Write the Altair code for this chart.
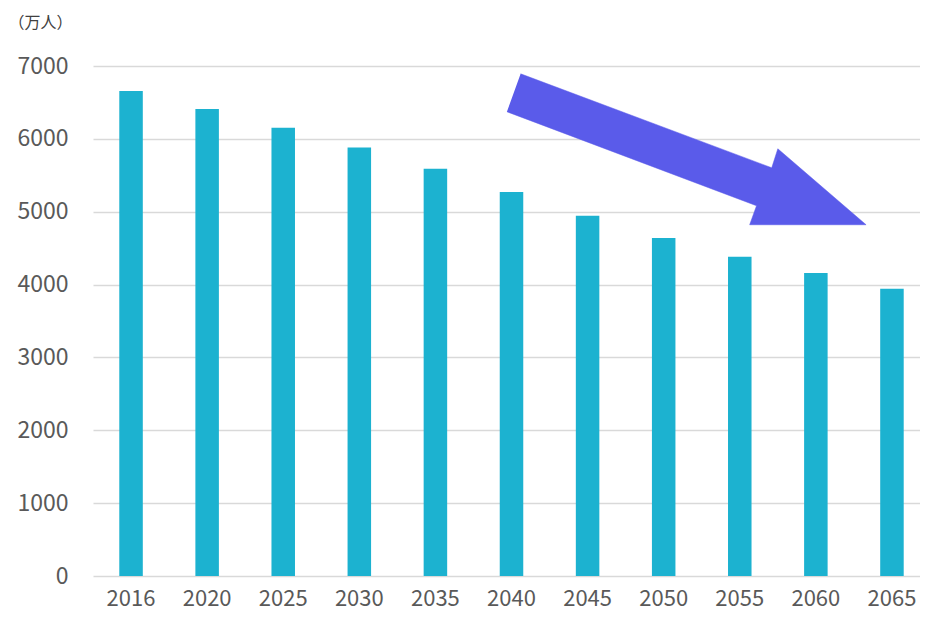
import altair as alt
import pandas as pd

# --- data ---
years = ["2016", "2020", "2025", "2030", "2035", "2040", "2045", "2050", "2055", "2060", "2065"]
values = [6656, 6409, 6152, 5882, 5589, 5270, 4944, 4638, 4382, 4158, 3942]
y_ticks = [0, 1000, 2000, 3000, 4000, 5000, 6000, 7000]
unit_label = "（万人）"

# arrow annotation vertices (x in category-index units, y in data units)
arrow_x = [5.12, 8.42, 8.50, 9.66, 8.13, 8.22, 4.94]
arrow_y = [6893, 5603, 5864, 4821, 4821, 5082, 6372]

BAR = "#1CB2D0"
ARROW = "#5A5BEA"
GRID = "#D9D9D9"
TXT = "#595959"
FONT = "Noto Sans CJK JP"

W = 827
H = 510
RANGE_W = 837

bars_df = pd.DataFrame({"year": years, "value": values})
arrow_df = pd.DataFrame({"i": list(range(len(arrow_x))), "ax": arrow_x, "ay": arrow_y})

yscale = alt.Scale(domain=[0, 7000])

bars = alt.Chart(bars_df).mark_bar(color=BAR).encode(
    x=alt.X(
        "year:N",
        sort=years,
        scale=alt.Scale(range=[0, RANGE_W], paddingInner=0.691, paddingOuter=0.3455),
        axis=alt.Axis(
            title=None,
            labelAngle=0,
            domain=False,
            ticks=False,
            tickSize=0,
            labelPadding=12,
            labelFontSize=22,
            labelColor=TXT,
            labelFont=FONT,
            grid=False,
        ),
    ),
    y=alt.Y(
        "value:Q",
        scale=yscale,
        axis=alt.Axis(
            values=y_ticks,
            format="d",
            title=unit_label,
            titleAngle=0,
            titleAlign="left",
            titleBaseline="top",
            titleX=-85,
            titleY=-52,
            titleFontSize=16,
            titleFontWeight="normal",
            titleColor="#404040",
            titleFont=FONT,
            domain=False,
            ticks=False,
            tickSize=0,
            labelPadding=25,
            labelFontSize=23,
            labelColor=TXT,
            labelFont=FONT,
            grid=True,
            gridColor=GRID,
            gridWidth=1.5,
        ),
    ),
)

arrow = alt.Chart(arrow_df).mark_line(filled=True, fill=ARROW, stroke=ARROW, strokeWidth=0.5).encode(
    x=alt.X("ax:Q", scale=alt.Scale(domain=[-0.5, 10.5], range=[0, RANGE_W]), axis=None),
    y=alt.Y("ay:Q", scale=yscale),
    order=alt.Order("i:Q"),
)

chart = (
    alt.layer(bars, arrow)
    .resolve_scale(x="independent")
    .properties(
        width=W,
        height=H,
        autosize=alt.AutoSizeParams(type="none"),
        padding={"left": 85, "top": 58, "right": 0, "bottom": 35},
    )
    .configure_view(stroke=None)
)

chart.save("out.html", embed_options={"renderer": "svg", "actions": False})
